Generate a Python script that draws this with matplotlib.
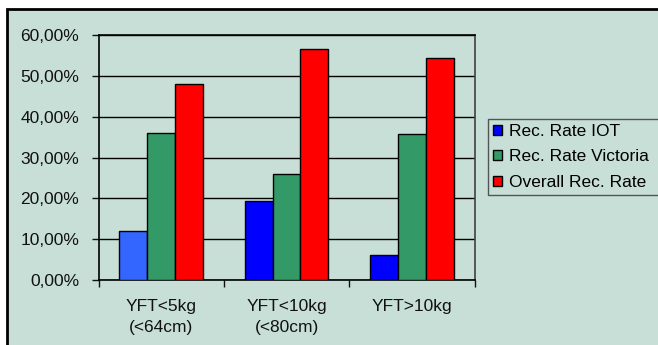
import numpy as np
import matplotlib.pyplot as plt
from matplotlib.patches import Rectangle
from matplotlib.ticker import FuncFormatter

plt.rcParams['font.family'] = ['Liberation Sans', 'DejaVu Sans']

categories = ['YFT<5kg\n(<64cm)', 'YFT<10kg\n(<80cm)', 'YFT>10kg']
rate_iot = [12.0, 19.4, 6.2]
rate_victoria = [36.0, 26.0, 35.7]
rate_overall = [48.0, 56.5, 54.3]
series_names = ['Rec. Rate IOT', 'Rec. Rate Victoria', 'Overall Rec. Rate']

bg = '#c8dfd7'
fs = 12.5
W, H = 658, 345
fig = plt.figure(figsize=(W / 100, H / 100), dpi=100)
fig.patch.set_facecolor('white')

# chart area panel with black frame on top/left
fig.patches.append(Rectangle((7 / W, -0.2), 1.2, 1.2 - 8.5 / H, transform=fig.transFigure,
                             facecolor=bg, edgecolor='black', linewidth=2, zorder=-5))

ax = fig.add_axes([98.5 / W, 1 - 280 / H, 376 / W, 245 / H])
ax.set_facecolor('none')

x = np.arange(len(categories))
w = 0.222
iot_colors = ['#3366ff', '#0000ff', '#0000ff']
ax.bar(x - w, rate_iot, w, color=iot_colors, edgecolor='black', linewidth=1, zorder=3)
ax.bar(x, rate_victoria, w, color='#339966', edgecolor='black', linewidth=1, zorder=3)
ax.bar(x + w, rate_overall, w, color='#ff0000', edgecolor='black', linewidth=1, zorder=3)

ax.set_xlim(-0.5, 2.5)
ax.set_ylim(0, 60)
ax.set_yticks(np.arange(0, 61, 10))
ax.yaxis.set_major_formatter(FuncFormatter(lambda v, p: f'{v:.2f}'.replace('.', ',') + '%'))
ax.grid(axis='y', color='black', linewidth=1, zorder=1)

ax.set_xticks(x)
ax.set_xticklabels(categories, fontsize=fs, linespacing=1.45)
ax.set_xticks([-0.5, 0.5, 1.5, 2.5], minor=True)
ax.tick_params(axis='x', which='major', length=0, pad=14)
ax.tick_params(axis='x', which='minor', length=5, width=1, color='black', direction='out')
ax.tick_params(axis='y', length=5, width=1, pad=9, labelsize=fs, color='black')
ax.tick_params(colors='#111111', which='both')

for s in ['left', 'bottom', 'top']:
    ax.spines[s].set_color('black')
    ax.spines[s].set_linewidth(1.2)
ax.spines['right'].set_color('#404040')
ax.spines['right'].set_linewidth(1.2)

handles = [Rectangle((0, 0), 1, 1, facecolor=c, edgecolor='black', linewidth=1)
           for c in ['#0000ff', '#339966', '#ff0000']]
leg = fig.legend(handles, series_names, loc='lower left',
                 bbox_to_anchor=(488 / W, 1 - 195 / H, 175 / W, 78 / H), mode='expand',
                 fontsize=fs, frameon=True, fancybox=False, handlelength=0.5,
                 handleheight=0.5, handletextpad=0.4, labelspacing=0.6,
                 borderaxespad=0, borderpad=0.3)
leg.get_frame().set_facecolor(bg)
leg.get_frame().set_edgecolor('#333333')
leg.get_frame().set_linewidth(1)

fig.savefig('out.png', dpi=100, facecolor='white')
